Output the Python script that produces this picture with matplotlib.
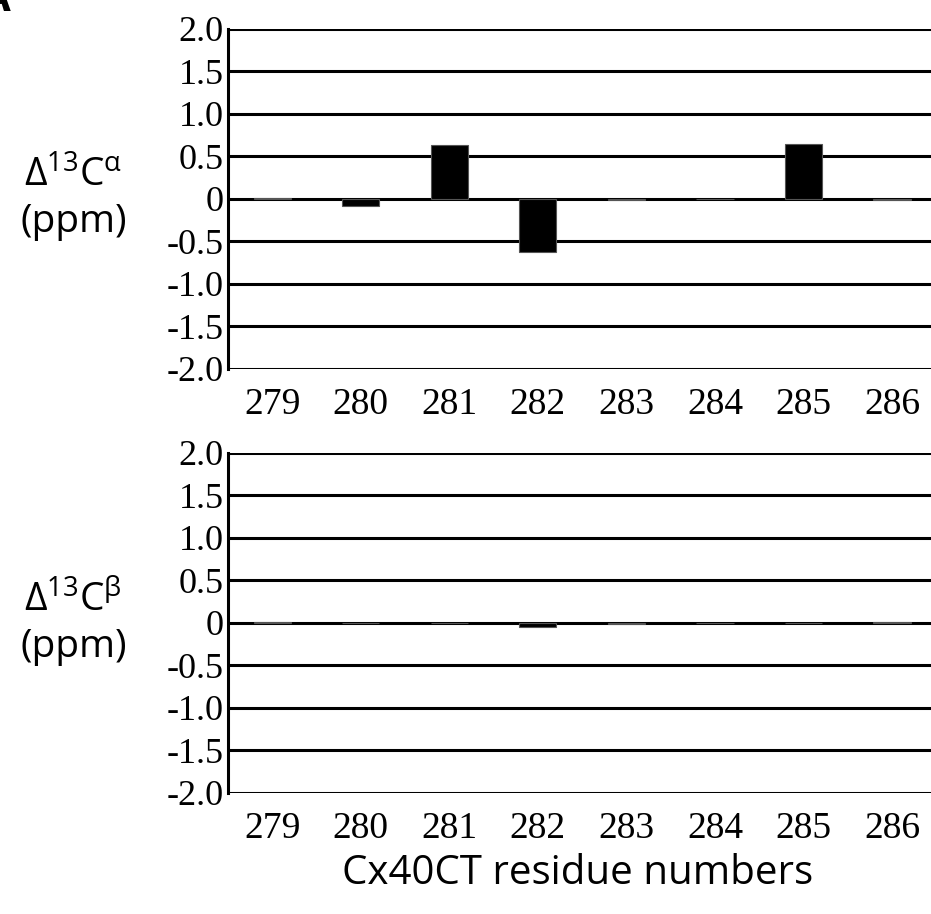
import matplotlib
matplotlib.use('Agg')
import matplotlib.pyplot as plt

# residue numbers and chemical shift differences (ppm)
residues = ['279', '280', '281', '282', '283', '284', '285', '286']
d_ca = [0.01, -0.08, 0.63, -0.62, -0.01, 0.0, 0.65, -0.01]
d_cb = [0.01, 0.0, 0.0, -0.05, -0.015, 0.0, 0.0, 0.01]
yticks = [2.0, 1.5, 1.0, 0.5, 0.0, -0.5, -1.0, -1.5, -2.0]
ytick_labels = ['2.0', '1.5', '1.0', '0.5', '0', '-0.5', '-1.0', '-1.5', '-2.0']

serif = 'Liberation Serif'
sans = 'Open Sans'

plt.rcParams['mathtext.fontset'] = 'custom'
plt.rcParams['mathtext.rm'] = sans
plt.rcParams['mathtext.it'] = sans

fig = plt.figure(figsize=(9.31, 9.14), dpi=100)
ax1 = fig.add_axes([0.2449, 0.5963, 0.7551, 0.3720])
ax2 = fig.add_axes([0.2449, 0.1324, 0.7551, 0.3720])

for ax, vals, sup in [(ax1, d_ca, 'α'), (ax2, d_cb, 'β')]:
    x = list(range(len(residues)))
    for y in yticks:
        ax.axhline(y, color='black', lw=2.2, zorder=1)
    ax.bar(x, vals, width=0.42, color='black', edgecolor='#555555', lw=0.8, zorder=2)
    ax.set_xlim(-0.5, 7.44)
    ax.set_ylim(-2.0, 2.0)
    ax.set_xticks(x)
    ax.set_xticklabels(residues, fontfamily=serif, fontsize=27)
    ax.set_yticks(yticks)
    ax.set_yticklabels(ytick_labels, fontfamily=serif, fontsize=26)
    ax.tick_params(axis='both', length=0)
    ax.tick_params(axis='x', pad=13)
    ax.tick_params(axis='y', pad=3)
    for s in ['top', 'right', 'bottom']:
        ax.spines[s].set_visible(False)
    ax.spines['left'].set_linewidth(2.2)
    ax.set_ylabel('Δ$^{13}$C$^{\\mathrm{' + sup + '}}$\n(ppm)', fontfamily=sans, fontsize=28,
                  rotation=0, ha='center', va='center', linespacing=1.25)
    ax.yaxis.set_label_coords(-0.22, 0.5)

fig.text(0.62, 0.044, 'Cx40CT residue numbers', fontfamily=sans, fontsize=29,
         ha='center', va='center')
fig.text(0.012, 0.988, 'A', fontfamily=sans, fontsize=30, fontweight='bold',
         ha='right', va='baseline')

fig.savefig('out.png', dpi=100)
